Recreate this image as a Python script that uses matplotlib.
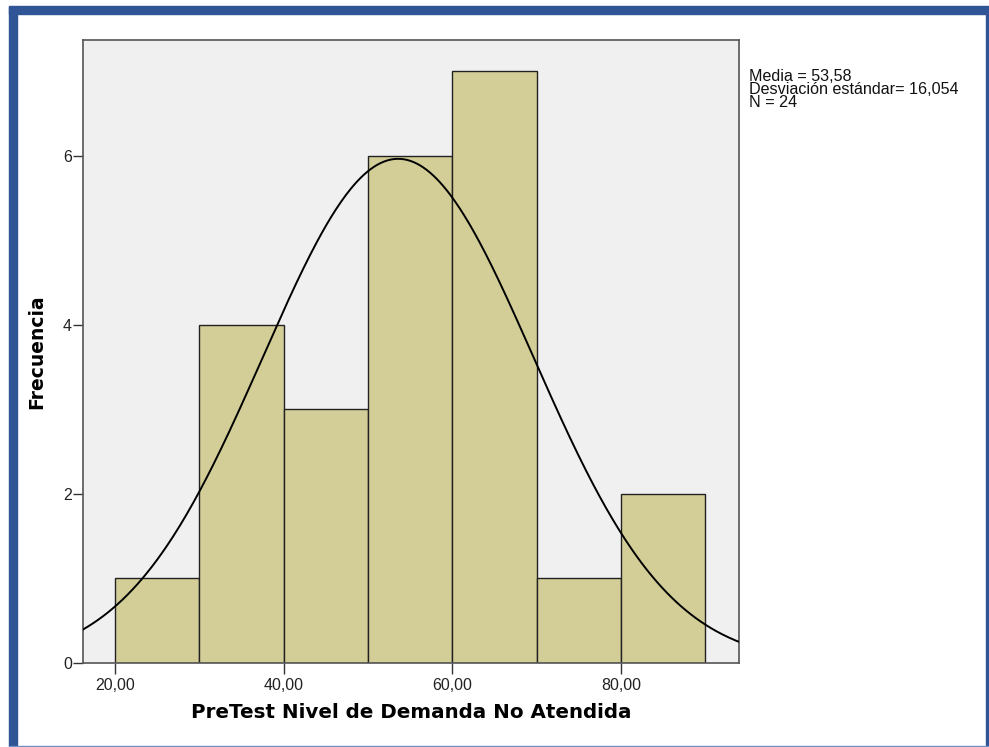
import numpy as np
import matplotlib
matplotlib.use("Agg")
import matplotlib.pyplot as plt
from matplotlib.patches import Rectangle

# histogram data
bin_edges = [20, 30, 40, 50, 60, 70, 80, 90]
counts = [1, 4, 3, 6, 7, 1, 2]
mean = 53.58
std = 16.054
n = 24

x_ticks = [20, 40, 60, 80]
x_ticklabels = ["20,00", "40,00", "60,00", "80,00"]
y_ticks = [0, 2, 4, 6]

plt.rcParams["font.family"] = ["Liberation Sans", "DejaVu Sans"]

fig = plt.figure(figsize=(9.89, 7.47), dpi=100)
fig.patch.set_facecolor("white")

# blue frame around the output
fig.patches.append(Rectangle((0.0095, 0.0), 0.0072, 0.991, transform=fig.transFigure,
                             color="#2f5597", zorder=0))
fig.patches.append(Rectangle((0.0095, 0.981), 0.99, 0.0105, transform=fig.transFigure,
                             color="#2f5597", zorder=0))
fig.patches.append(Rectangle((0.9965, 0.0), 0.0035, 0.99, transform=fig.transFigure,
                             color="#2f5597", zorder=0))
fig.patches.append(Rectangle((0.0095, 0.0), 0.99, 0.002, transform=fig.transFigure,
                             color="#6f8fc7", zorder=0))

ax = fig.add_axes([0.0839, 0.1124, 0.6633, 0.8341])
ax.set_facecolor("#f0f0f0")

lefts = np.array(bin_edges[:-1])
widths = np.diff(bin_edges)
ax.bar(lefts, counts, width=widths, align="edge", color="#d3ce97",
       edgecolor="#222222", linewidth=1.0, zorder=2)

# fitted normal curve scaled to counts
xmin, xmax = 16.2, 94.0
xs = np.linspace(xmin, xmax, 400)
binw = widths[0]
ys = n * binw / (std * np.sqrt(2 * np.pi)) * np.exp(-0.5 * ((xs - mean) / std) ** 2)
ax.plot(xs, ys, color="black", linewidth=1.4, zorder=3)

ax.set_xlim(xmin, xmax)
ax.set_ylim(0, 7.37)
ax.set_xticks(x_ticks)
ax.set_xticklabels(x_ticklabels, fontsize=11.5, color="#222222")
ax.set_yticks(y_ticks)
ax.set_yticklabels([str(v) for v in y_ticks], fontsize=11.5, color="#222222")
ax.tick_params(axis="x", length=8, width=1.0, color="#333333", pad=3)
ax.tick_params(axis="y", length=7, width=1.0, color="#333333", pad=1)
for s in ax.spines.values():
    s.set_color("#555555")
    s.set_linewidth(1.2)

ax.set_xlabel("PreTest Nivel de Demanda No Atendida", fontsize=14.3,
              fontweight="bold", family="DejaVu Sans", labelpad=7)
ax.set_ylabel("Frecuencia", fontsize=13.5, fontweight="bold",
              family="DejaVu Sans", labelpad=12)

fig.text(0.7573, 0.908, f"Media = 53,58\nDesviación estándar= 16,054\nN = {n}",
         fontsize=11.6, va="top", ha="left", linespacing=0.84, color="#111111")

fig.savefig("out.png", dpi=100)
